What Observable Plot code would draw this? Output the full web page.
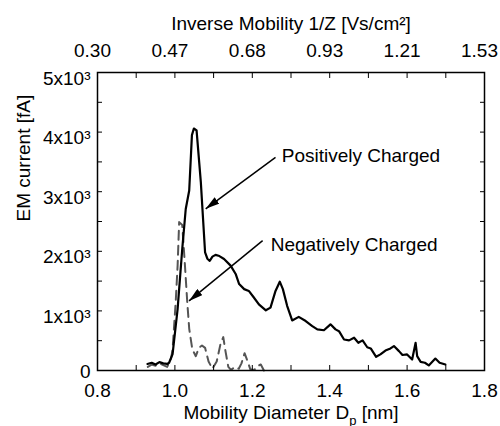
<!DOCTYPE html>
<html><head><meta charset="utf-8">
<script src="https://cdn.jsdelivr.net/npm/d3@7"></script>
<script src="https://cdn.jsdelivr.net/npm/@observablehq/plot@0.6"></script>
<style>body{margin:0;background:#fff;}</style>
</head><body><div id="chart"></div>
<script>
// Positively charged (solid)
const posX = [0.929,0.94,0.95,0.96,0.97,0.98,0.985,0.994,1.007,1.019,1.028,1.037,1.044,1.049,1.056,1.067,1.078,1.084,1.09,1.097,1.105,1.115,1.127,1.144,1.157,1.166,1.179,1.191,1.204,1.217,1.235,1.247,1.26,1.271,1.279,1.29,1.303,1.32,1.338,1.355,1.368,1.385,1.402,1.415,1.424,1.437,1.45,1.463,1.474,1.485,1.497,1.506,1.52,1.531,1.544,1.557,1.566,1.579,1.588,1.6,1.613,1.622,1.626,1.635,1.646,1.656,1.673,1.684,1.699];
const posY = [110,130,100,140,120,110,130,275,1030,2040,2710,3020,3950,4060,4030,3160,1980,1875,1840,1910,1940,1920,1870,1760,1620,1450,1365,1335,1225,1110,1010,1055,1335,1490,1365,1085,840,900,830,745,690,675,775,690,660,520,505,550,465,505,390,370,230,270,335,370,410,325,260,270,185,465,240,145,130,85,200,130,100];
// Negatively charged (dashed)
const negX = [0.93,0.94,0.95,0.96,0.97,0.98,0.99,0.994,1.002,1.007,1.011,1.019,1.026,1.032,1.037,1.045,1.054,1.062,1.07,1.078,1.087,1.097,1.108,1.118,1.125,1.13,1.138,1.145,1.155,1.165,1.172,1.18,1.188,1.195,1.205,1.215,1.222,1.23];
const negY = [60,100,80,120,90,60,200,355,1140,1760,2490,2440,1760,1140,700,355,240,380,420,380,150,30,150,450,560,350,60,10,60,30,120,290,150,20,10,80,100,0];

const xTicks = [0.8,0.9,1.0,1.1,1.2,1.3,1.4,1.5,1.6,1.7,1.8];
const xLabelTicks = [0.8,1.0,1.2,1.4,1.6,1.8];
const xLabels = ["0.8","1.0","1.2","1.4","1.6","1.8"];
const topLabels = ["0.30","0.47","0.68","0.93","1.21","1.53"];
const yTicks = [0,500,1000,1500,2000,2500,3000,3500,4000,4500,5000];
const yZeroTick = [0];
const yZeroLabel = "0";
const yLabelTicks = [1000,2000,3000,4000,5000];
const yLabels = ["1x10³","2x10³","3x10³","4x10³","5x10³"];

const topTitle = "Inverse Mobility 1/Z [Vs/cm²]";
const xTitle = "Mobility Diameter Dp [nm]";
const yTitle = "EM current [fA]";

const annLabels = ["Positively Charged","Negatively Charged"];
const annX = [1.276, 1.2475];
const annY = [3600, 2100];
const arrX1 = [1.260, 1.2267];
const arrY1 = [3577, 2180];
const arrX2 = [1.0796, 1.0365];
const arrY2 = [2713, 1168];

const pos = posX.map((x,i)=>({x, y: posY[i]}));
const neg = negX.map((x,i)=>({x, y: negY[i]}));
const anns = annLabels.map((label,i)=>({label, x: annX[i], y: annY[i]}));
const arrows = arrX1.map((x1,i)=>({x1, y1: arrY1[i], x2: arrX2[i], y2: arrY2[i]}));

const FONT = "'Liberation Sans', Arial, Helvetica, sans-serif";
const FS = 19;

function headMarker(color, context) {
  const m = d3.create("svg:marker")
    .attr("viewBox","0 0 14 8").attr("refX",14).attr("refY",4)
    .attr("markerWidth",14).attr("markerHeight",8)
    .attr("markerUnits","userSpaceOnUse").attr("orient","auto");
  m.append("path").attr("d","M0,0L14,4L0,8Z").attr("fill",color).attr("stroke","none");
  return m.node();
}

function build(useMarker) {
  const arrowMark = useMarker
    ? Plot.link(arrows, {x1:"x1", y1:"y1", x2:"x2", y2:"y2", stroke:"black", strokeWidth:1.5, markerEnd: headMarker})
    : Plot.arrow(arrows, {x1:"x1", y1:"y1", x2:"x2", y2:"y2", stroke:"black", strokeWidth:1.5, headLength:14, headAngle:40});
  return Plot.plot({
    width: 500, height: 426,
    marginLeft: 97, marginRight: 16, marginTop: 72, marginBottom: 56,
    style: {fontFamily: FONT, fontSize: FS + "px", color: "black", background: "white"},
    x: {domain: [0.8, 1.8]},
    y: {domain: [0, 5000]},
    marks: [
      Plot.line(neg, {x:"x", y:"y", stroke:"#555", strokeWidth:2, strokeDasharray:"9,6"}),
      Plot.line(pos, {x:"x", y:"y", stroke:"black", strokeWidth:2.2}),
      arrowMark,
      Plot.text(anns, {x:"x", y:"y", text:"label", textAnchor:"start", fontSize:FS, fill:"black"}),
      // ticks (inward)
      Plot.axisX({anchor:"bottom", ticks: xTicks, tickSize:-5, fill:"none", label:null}),
      Plot.axisX({anchor:"top", ticks: xTicks, tickSize:-5, fill:"none", label:null}),
      Plot.axisY({anchor:"left", ticks: yTicks, tickSize:-5, fill:"none", label:null}),
      Plot.axisY({anchor:"right", ticks: yTicks, tickSize:-5, fill:"none", label:null}),
      // tick labels
      Plot.axisX({anchor:"bottom", ticks: xLabelTicks, tickSize:0, tickPadding:13, label:null,
        tickFormat: d => xLabels[xLabelTicks.indexOf(d)]}),
      Plot.axisX({anchor:"top", ticks: xLabelTicks, tickSize:0, tickPadding:16, dx:-5, label:null,
        tickFormat: d => topLabels[xLabelTicks.indexOf(d)]}),
      Plot.axisY({anchor:"left", ticks: yLabelTicks, tickSize:0, tickPadding:7, dy:6, label:null,
        tickFormat: d => yLabels[yLabelTicks.indexOf(d)]}),
      Plot.axisY({anchor:"left", ticks: yZeroTick, tickSize:0, tickPadding:7, dy:1, label:null,
        tickFormat: () => yZeroLabel}),
      // titles
      Plot.text([topTitle], {frameAnchor:"top", dy:-43, lineAnchor:"bottom", fontSize:FS, fill:"black"}),
      Plot.text([xTitle], {frameAnchor:"bottom", dy:48, lineAnchor:"bottom", fontSize:FS, fill:"black"}),
      Plot.text([yTitle], {frameAnchor:"left", dx:-74, rotate:-90, fontSize:FS, fill:"black"}),
      Plot.frame({stroke:"black", strokeWidth:1.5})
    ]
  });
}

let chart;
try { chart = build(true); } catch (e) { chart = build(false); }

for (const t of chart.querySelectorAll("text")) {
  if (t.textContent === xTitle) {
    t.textContent = "";
    t.appendChild(document.createTextNode("Mobility Diameter D"));
    const sub = document.createElementNS("http://www.w3.org/2000/svg","tspan");
    sub.setAttribute("dy","6"); sub.setAttribute("font-size","13"); sub.textContent = "p";
    const rest = document.createElementNS("http://www.w3.org/2000/svg","tspan");
    rest.setAttribute("dy","-6"); rest.textContent = " [nm]";
    t.appendChild(sub); t.appendChild(rest);
  }
}
document.getElementById("chart").appendChild(chart);
</script>
</body></html>
